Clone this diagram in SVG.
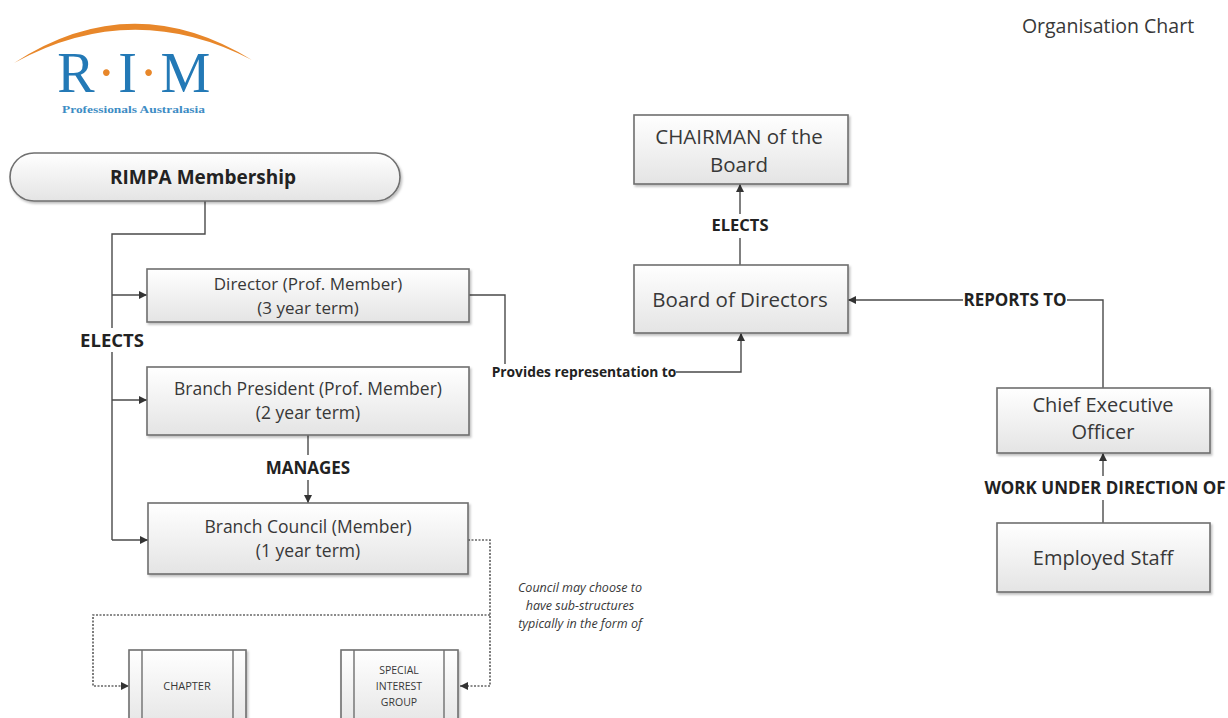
<svg xmlns="http://www.w3.org/2000/svg" width="1228" height="718" viewBox="0 0 1228 718">
<defs>
<linearGradient id="bg" x1="0" y1="0" x2="0" y2="1">
<stop offset="0" stop-color="#ffffff"/>
<stop offset="1" stop-color="#e4e4e4"/>
</linearGradient>
<filter id="sh" x="-10%" y="-10%" width="130%" height="140%">
<feDropShadow dx="1.5" dy="2" stdDeviation="1.2" flood-color="#000" flood-opacity="0.25"/>
</filter>
<marker id="ah" viewBox="0 0 10 10" refX="10" refY="5" markerWidth="8" markerHeight="8" orient="auto" markerUnits="userSpaceOnUse">
<path d="M0,0 L10,5 L0,10 z" fill="#333"/>
</marker>
</defs>
<style>
.box{fill:url(#bg);stroke:#6f6f6f;stroke-width:1.6;filter:url(#sh)}
.t{font-family:"Open Sans","Noto Sans",sans-serif;fill:#383838;text-anchor:middle}
.lb{font-family:"Open Sans","Noto Sans",sans-serif;font-weight:bold;fill:#222;text-anchor:middle}
.ln{fill:none;stroke:#4a4a4a;stroke-width:1.4}
.dl{fill:none;stroke:#666;stroke-width:1.7;stroke-dasharray:2 1.5}
</style>
<rect width="1228" height="718" fill="#ffffff"/>

<g id="logo">
<path d="M14,63 Q132,-14 252,60 Q132,-2 14,63 z" fill="#e8872a"/>
<text x="135" y="92" font-family="Liberation Serif,serif" font-size="56" letter-spacing="2.5" fill="#2379b6" text-anchor="middle">R<tspan fill="#e8872a">·</tspan>I<tspan fill="#e8872a">·</tspan>M</text>
<text x="62" y="113" font-family="Liberation Serif,serif" font-size="9.5" font-weight="bold" fill="#3d8cc4" textLength="143" lengthAdjust="spacingAndGlyphs">Professionals Australasia</text>
</g>

<text id="title" x="1108" y="33" class="t" font-size="19.5">Organisation Chart</text>

<g id="connectors">
<path class="ln" d="M205,201 V234 H112 V540"/>
<path class="ln" d="M112,295 H147" marker-end="url(#ah)"/>
<path class="ln" d="M112,400 H147" marker-end="url(#ah)"/>
<path class="ln" d="M308,435 V455"/>
<path class="ln" d="M308,480 V503" marker-end="url(#ah)"/>
<path class="ln" d="M112,540 H148" marker-end="url(#ah)"/>
<path class="ln" d="M469,295 H505 V364"/>
<path class="ln" d="M676,372 H741 V333" marker-end="url(#ah)"/>
<path class="ln" d="M740,265 V238"/>
<path class="ln" d="M740,214 V184" marker-end="url(#ah)"/>
<path class="ln" d="M1103,388 V300 H1067"/>
<path class="ln" d="M963,300 H848" marker-end="url(#ah)"/>
<path class="ln" d="M1103,523 V500"/>
<path class="ln" d="M1103,476 V453" marker-end="url(#ah)"/>
<path class="dl" d="M468,540 H490 V686 H460" marker-end="url(#ah)"/>
<path class="dl" d="M490,615 H93 V686 H129" marker-end="url(#ah)"/>
<rect x="76" y="328" width="72" height="24" fill="#ffffff"/>
<text x="112" y="347" class="lb" font-size="18.5">ELECTS</text>
<text x="308" y="474" class="lb" font-size="17">MANAGES</text>
<text x="584" y="377" class="lb" font-size="13.8">Provides representation to</text>
<text x="740" y="231" class="lb" font-size="16.5">ELECTS</text>
<text x="1015" y="306" class="lb" font-size="17">REPORTS TO</text>
<text x="1105" y="494" class="lb" font-size="17">WORK UNDER DIRECTION OF</text>
<g class="t" font-size="12.5" font-style="italic" fill="#444">
<text x="580" y="592">Council may choose to</text>
<text x="580" y="610">have sub-structures</text>
<text x="580" y="628">typically in the form of</text>
</g>
</g>

<g id="rimpa">
<rect class="box" x="10" y="153" width="390" height="48" rx="24"/>
<text x="203" y="184" class="lb" font-size="19">RIMPA Membership</text>
</g>

<g id="director">
<rect class="box" x="147" y="269" width="322" height="53"/>
<text x="308" y="290" class="t" font-size="17">Director (Prof. Member)</text>
<text x="308" y="314" class="t" font-size="17">(3 year term)</text>
</g>

<g id="president">
<rect class="box" x="147" y="367" width="322" height="68"/>
<text x="308" y="395" class="t" font-size="17.5">Branch President (Prof. Member)</text>
<text x="308" y="419" class="t" font-size="17.5">(2 year term)</text>
</g>

<g id="council">
<rect class="box" x="148" y="503" width="320" height="71"/>
<text x="308" y="533" class="t" font-size="17.5">Branch Council (Member)</text>
<text x="308" y="557" class="t" font-size="17.5">(1 year term)</text>
</g>

<g id="chapter">
<rect class="box" x="129" y="650" width="117" height="80"/>
<path d="M142,650 V718 M233,650 V718" stroke="#6f6f6f" stroke-width="1.4"/>
<text x="187" y="690" class="t" font-size="11">CHAPTER</text>
</g>

<g id="sig">
<rect class="box" x="341" y="650" width="117" height="80"/>
<path d="M354,650 V718 M444,650 V718" stroke="#6f6f6f" stroke-width="1.4"/>
<text x="399" y="674" class="t" font-size="10.5">SPECIAL</text>
<text x="399" y="690" class="t" font-size="10.5">INTEREST</text>
<text x="399" y="706" class="t" font-size="10.5">GROUP</text>
</g>

<g id="chairman">
<rect class="box" x="634" y="115" width="214" height="69"/>
<text x="739" y="144" class="t" font-size="20.5">CHAIRMAN of the</text>
<text x="739" y="172" class="t" font-size="20.5">Board</text>
</g>

<g id="board">
<rect class="box" x="634" y="265" width="214" height="68"/>
<text x="740" y="307" class="t" font-size="20.5">Board of Directors</text>
</g>

<g id="ceo">
<rect class="box" x="997" y="388" width="213" height="65"/>
<text x="1103" y="412" class="t" font-size="20">Chief Executive</text>
<text x="1103" y="439" class="t" font-size="20">Officer</text>
</g>

<g id="staff">
<rect class="box" x="997" y="523" width="213" height="69"/>
<text x="1103" y="565" class="t" font-size="20">Employed Staff</text>
</g>
</svg>
